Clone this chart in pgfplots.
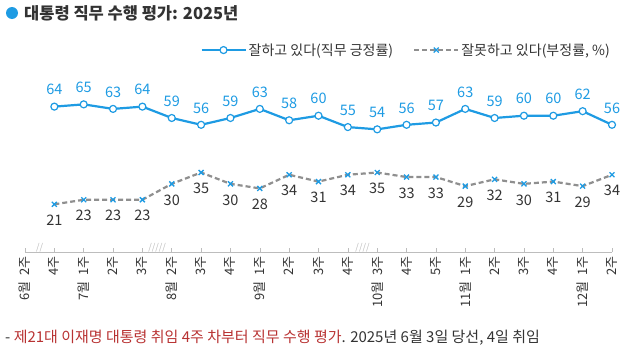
\documentclass[border=0pt]{standalone}
\usepackage{pgfplots}
\pgfplotsset{compat=1.18}
\usepackage{fontspec}
\setmainfont{Noto Sans CJK KR}
\definecolor{gblue}{HTML}{1E9BE3}
\definecolor{ggray}{HTML}{8F8F8F}
\definecolor{axgray}{HTML}{BDBDBD}
\definecolor{fred}{HTML}{B83232}
\definecolor{txt}{HTML}{333333}
\begin{document}
\begin{tikzpicture}
\useasboundingbox (0,0) rectangle (640pt,360pt);
\fill[gblue] (12pt,347pt) circle (6pt);
\node[anchor=west,inner sep=0pt,text=txt] at (24pt,347pt) {\fontsize{16.5}{18}\selectfont\bfseries 대통령 직무 수행 평가: 2025년};
\begin{axis}[
  at={(25pt,108pt)}, anchor=south west,
  scale only axis, width=587pt, height=159pt,
  xmin=0, xmax=20, ymin=0, ymax=70,
  axis x line*=bottom, axis y line=none,
  x axis line style={draw=axgray, line width=0.8pt},
  xtick={0,...,20},
  xticklabels={6월\ \ 2주,4주,7월\ \ 1주,2주,3주,8월\ \ 2주,3주,4주,9월\ \ 1주,2주,3주,4주,10월\ \ 3주,4주,5주,11월\ \ 1주,2주,3주,4주,12월\ \ 1주,2주},
  xticklabel style={rotate=90, anchor=east, font=\fontsize{13}{14}\selectfont, text=txt, inner sep=1pt, xshift=-3pt},
  ytick=\empty,
  tick style={draw=axgray, line width=0.6pt},
  major tick length=4pt,
  clip=false,
  /pgf/number format/assume math mode=true,
  legend columns=2,
  legend style={at={(1,1.27)}, anchor=east, draw=none, fill=none, inner sep=0pt,
    font=\fontsize{14}{16}\selectfont, text=txt,
    /tikz/every even column/.append style={column sep=18pt}},
  legend image code/.code={\draw[mark repeat=2,mark phase=2,#1] plot coordinates {(0pt,0pt) (22pt,0pt) (44pt,0pt)};},
]
\addplot[gblue, line width=2.2pt, mark=*, mark size=3.5pt,
  mark options={fill=white, draw=gblue, line width=1.2pt, solid},
  nodes near coords,
  nodes near coords style={anchor=south, inner sep=0pt, yshift=11pt, text=gblue, font=\fontsize{14.5}{16}\selectfont}]
coordinates {(1,64) (2,65) (3,63) (4,64) (5,59) (6,56) (7,59) (8,63) (9,58) (10,60) (11,55) (12,54) (13,56) (14,57) (15,63) (16,59) (17,60) (18,60) (19,62) (20,56)};
\addlegendentry{잘하고 있다(직무 긍정률)}
\addplot[ggray, line width=2.2pt, dash pattern=on 5pt off 3pt, mark=x, mark size=3.5pt,
  mark options={draw=gblue, line width=1.3pt, solid},
  nodes near coords,
  nodes near coords style={anchor=north, inner sep=0pt, yshift=-10pt, text=txt, font=\fontsize{14.5}{16}\selectfont}]
coordinates {(1,21) (2,23) (3,23) (4,23) (5,30) (6,35) (7,30) (8,28) (9,34) (10,31) (11,34) (12,35) (13,33) (14,33) (15,29) (16,32) (17,30) (18,31) (19,29) (20,34)};
\addlegendentry{잘못하고 있다(부정률, \%)}
\node[anchor=south, inner sep=0pt, text=axgray, font=\fontsize{9}{9}\selectfont] at (axis cs:0.5,0) {//};
\node[anchor=south, inner sep=0pt, text=axgray, font=\fontsize{9}{9}\selectfont] at (axis cs:4.5,0) {/////};
\node[anchor=south, inner sep=0pt, text=axgray, font=\fontsize{9}{9}\selectfont] at (axis cs:11.5,0) {////};
\end{axis}
\node[anchor=west, inner sep=0pt, text=txt] at (5pt,22pt) {\fontsize{15}{16}\selectfont - \textcolor{fred}{제21대 이재명 대통령 취임 4주 차부터 직무 수행 평가}. 2025년 6월 3일 당선, 4일 취임};
\end{tikzpicture}
\end{document}
